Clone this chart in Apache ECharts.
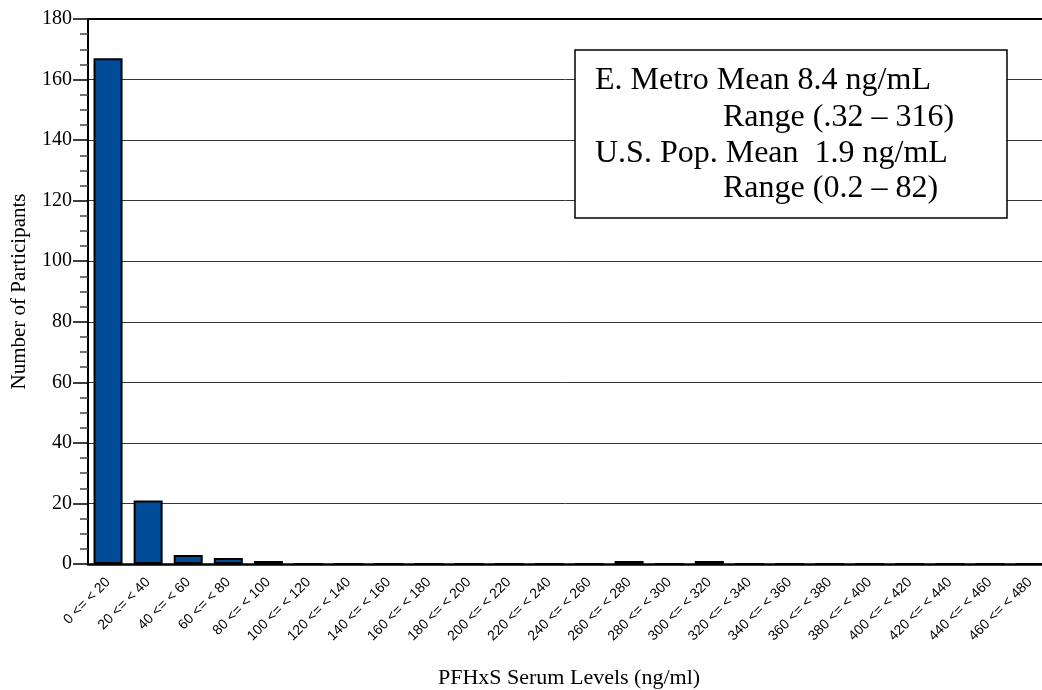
<!DOCTYPE html>
<html>
<head>
<meta charset="utf-8">
<script src="https://cdn.jsdelivr.net/npm/echarts@6/dist/echarts.min.js"></script>
<style>
  html, body { margin: 0; padding: 0; background: #fff; }
  #chart { width: 1042px; height: 690px; }
</style>
</head>
<body>
<div id="chart"></div>
<script>
  // bins of 20 ng/ml
  var binStarts = [0, 20, 40, 60, 80, 100, 120, 140, 160, 180, 200, 220,
                   240, 260, 280, 300, 320, 340, 360, 380, 400, 420, 440, 460];
  var counts = [167, 21, 3, 2, 1, 0, 0, 0, 0, 0, 0, 0,
                0, 1, 0, 1, 0, 0, 0, 0, 0, 0, 0, 0];
  var yTicks = [0, 20, 40, 60, 80, 100, 120, 140, 160, 180];
  var noteLines = [
    'E. Metro Mean 8.4 ng/mL',
    'Range (.32 \u2013 316)',
    'U.S. Pop. Mean  1.9 ng/mL',
    'Range (0.2 \u2013 82)'
  ];

  var categories = binStarts.map(function (b) {
    return b + ' <= < ' + (b + 20);
  });

  var serif = '"Liberation Serif", "Times New Roman", serif';

  var chart = echarts.init(document.getElementById('chart'));

  chart.setOption({
    animation: false,
    grid: {
      left: 88,
      right: -8,
      top: 19,
      bottom: 126,
      containLabel: false,
      outerBoundsMode: 'none',
      show: false
    },
    xAxis: {
      type: 'category',
      data: categories,
      name: 'PFHxS Serum Levels (ng/ml)',
      nameLocation: 'middle',
      nameGap: 103,
      nameTextStyle: { fontFamily: serif, fontSize: 22, color: '#000' },
      axisLine: { lineStyle: { color: '#000', width: 2.5 } },
      axisTick: { length: 13, lineStyle: { color: '#444', width: 2 } },
      axisLabel: {
        rotate: 45,
        interval: 0,
        margin: 16,
        fontFamily: '"Liberation Sans", Arial, sans-serif',
        fontSize: 14,
        color: '#000'
      },
      splitLine: { show: false }
    },
    yAxis: {
      type: 'value',
      min: yTicks[0],
      max: yTicks[yTicks.length - 1],
      interval: 20,
      name: 'Number of Participants',
      nameLocation: 'middle',
      nameGap: 58,
      nameTextStyle: { fontFamily: serif, fontSize: 21, color: '#000' },
      axisLine: { show: true, lineStyle: { color: '#000', width: 2 } },
      axisTick: { show: true, length: 15, lineStyle: { color: '#000', width: 1.5 } },
      minorTick: { show: true, splitNumber: 4, length: 8, lineStyle: { color: '#444', width: 1.5 } },
      axisLabel: {
        margin: 16,
        fontFamily: serif,
        fontSize: 20,
        color: '#000'
      },
      splitLine: { show: true, lineStyle: { color: '#333', width: 1 } }
    },
    series: [{
      type: 'bar',
      data: counts,
      barWidth: 29,
      itemStyle: {
        color: '#004C99',
        borderColor: '#000',
        borderWidth: 2
      }
    }],
    graphic: [
      {
        type: 'line',
        shape: { x1: 88, y1: 19, x2: 1042, y2: 19 },
        style: { stroke: '#000', lineWidth: 2 },
        z: 5
      },
      {
        type: 'rect',
        shape: { x: 575, y: 50, width: 432, height: 168 },
        style: { fill: '#fff', stroke: '#000', lineWidth: 1.5 },
        z: 10
      },
      {
        type: 'text', left: 595, top: 65, z: 11,
        style: { text: noteLines[0], font: '32px ' + serif, fill: '#000' }
      },
      {
        type: 'text', left: 723, top: 102, z: 11,
        style: { text: noteLines[1], font: '32px ' + serif, fill: '#000' }
      },
      {
        type: 'text', left: 595, top: 138, z: 11,
        style: { text: noteLines[2], font: '32px ' + serif, fill: '#000' }
      },
      {
        type: 'text', left: 723, top: 173, z: 11,
        style: { text: noteLines[3], font: '32px ' + serif, fill: '#000' }
      }
    ]
  });
</script>
</body>
</html>
